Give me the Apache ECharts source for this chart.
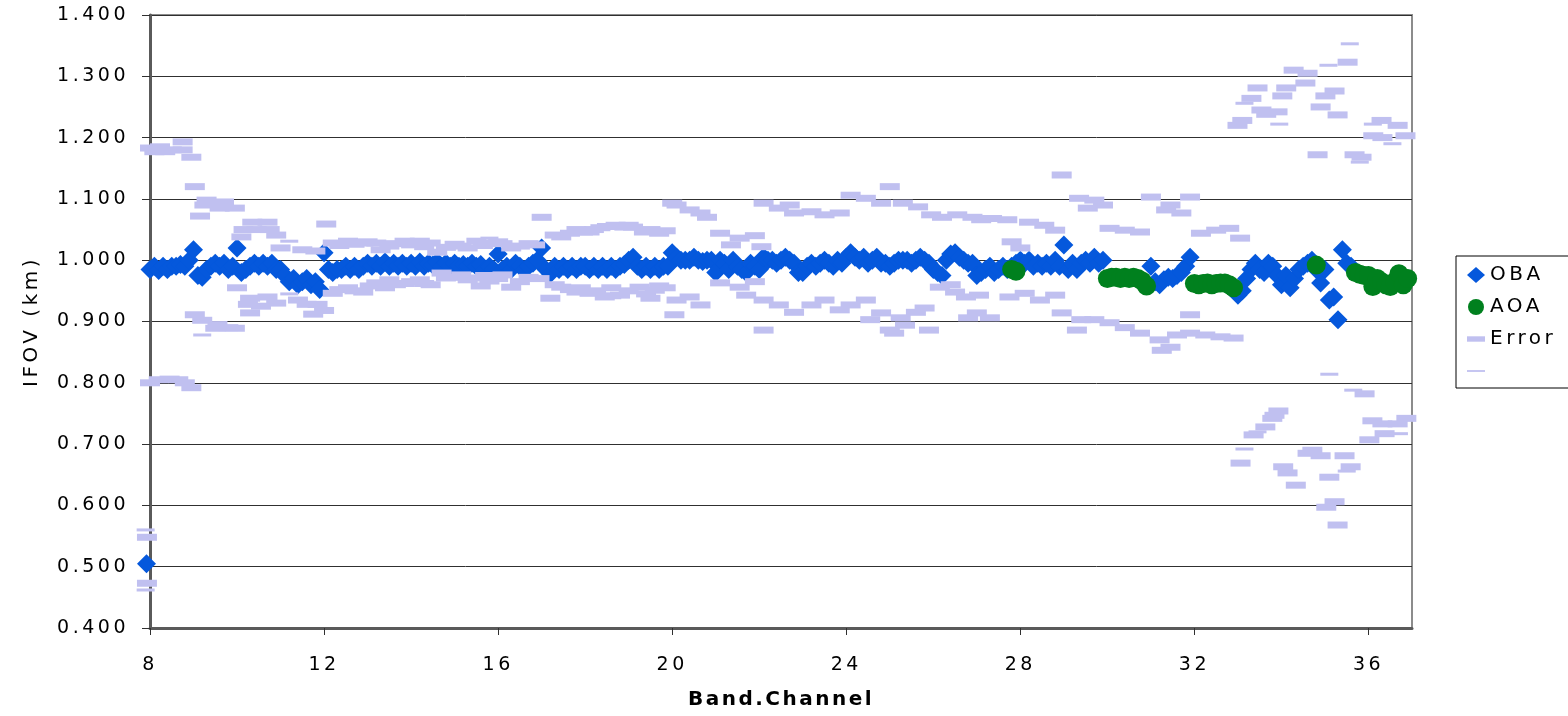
<!DOCTYPE html>
<html><head><meta charset="utf-8">
<script src="https://cdn.jsdelivr.net/npm/echarts@6/dist/echarts.min.js"></script>
<style>html,body{margin:0;padding:0;background:#fff}#c{width:1568px;height:716px}</style>
</head><body><div id="c"></div>
<script>
// ---- axis settings ----
const xMin = 8, xMax = 37, xStep = 4;
const yMin = 0.4, yMax = 1.4, yStep = 0.1;

// ---- OBA: one row per band (8..35), ten channels each, x = band + channel/10 ----
const bandStart = 8;
const obaValues = [
  [0.985,0.99,0.983,0.99,0.985,0.99,0.99,0.993,0.99,1.0],      // 8
  [1.017,0.975,0.972,0.985,0.99,0.995,0.99,0.995,0.985,0.99],  // 9
  [1.02,0.98,0.985,0.99,0.995,0.99,0.995,0.99,0.995,0.985],    // 10
  [0.985,0.975,0.965,0.97,0.96,0.965,0.97,0.96,0.965,0.952],   // 11
  [1.012,0.985,0.98,0.985,0.985,0.99,0.985,0.99,0.985,0.99],   // 12
  [0.995,0.99,0.995,0.99,0.997,0.99,0.995,0.99,0.995,0.99],    // 13
  [0.995,0.99,0.997,0.99,0.995,0.992,0.997,0.99,0.995,0.99],   // 14
  [0.995,0.99,0.993,0.99,0.995,0.99,0.993,0.985,0.99,0.985],   // 15
  [1.01,0.985,0.99,0.985,0.995,0.99,0.985,0.99,0.995,1.0],     // 16
  [1.02,0.985,0.978,0.99,0.985,0.99,0.985,0.99,0.985,0.99],    // 17
  [0.99,0.985,0.99,0.985,0.99,0.985,0.99,0.985,0.99,0.993],    // 18
  [1.0,1.005,0.99,0.985,0.99,0.985,0.99,0.985,0.99,0.99],      // 19
  [1.012,1.005,1.0,1.0,1.0,1.005,1.0,0.998,1.0,1.0],           // 20
  [0.98,1.0,0.995,0.985,1.0,0.99,0.985,0.98,0.995,0.99],       // 21
  [0.985,1.005,1.0,1.0,0.995,1.0,1.005,1.0,0.995,0.98],        // 22
  [0.98,0.99,0.995,0.99,0.995,1.0,0.995,0.99,1.0,0.995],       // 23
  [1.005,1.012,1.005,1.0,1.005,0.995,1.0,1.005,0.995,0.995],   // 24
  [0.99,0.995,1.0,1.0,1.0,0.995,1.0,1.005,1.0,0.995],          // 25
  [0.985,0.98,0.975,1.0,1.01,1.012,1.005,1.0,0.995,0.995],     // 26
  [0.975,0.98,0.985,0.99,0.98,0.985,0.99,0.985,0.99,0.995],    // 27
  [1.0,0.995,1.0,0.99,0.995,0.99,0.995,0.99,1.0,0.99],         // 28
  [1.025,0.985,0.995,0.985,0.995,1.0,0.995,1.005,0.995,1.0],   // 29
  [null,null,null,null,null,null,null,null,null,null],         // 30
  [0.99,0.965,0.96,0.968,0.972,0.97,0.975,0.98,0.99,1.005],    // 31
  [null,null,null,null,null,null,null,null,null,null],         // 32
  [0.943,0.95,0.97,0.985,0.995,0.985,0.98,0.995,0.99,0.975],   // 33
  [0.96,0.975,0.955,0.97,0.985,0.99,0.995,1.0,0.985,0.963],    // 34
  [0.985,0.935,0.94,0.903,1.017,0.995,0.99,null,null,null]     // 35
];
const obaExtraX = [7.92];
const obaExtraY = [0.505];

// ---- AOA ----
const aoaX = [27.8,27.9,30.0,30.1,30.2,30.3,30.4,30.5,30.6,30.7,30.8,30.9,
  32.0,32.1,32.2,32.3,32.4,32.5,32.6,32.7,32.8,32.9,34.8,
  35.7,35.8,35.9,36.0,36.1,36.2,36.3,36.4,36.5,36.6,36.7,36.8,36.9];
const aoaY = [0.985,0.982,0.97,0.972,0.972,0.97,0.972,0.97,0.972,0.97,0.966,0.958,
  0.962,0.96,0.962,0.963,0.96,0.962,0.963,0.963,0.96,0.955,0.992,
  0.98,0.977,0.975,0.975,0.957,0.97,0.965,0.96,0.957,0.965,0.978,0.96,0.97];

// ---- Error marks (upper / lower), [band.channel, IFOV] ----
const errUpper = [
  [7.93,0.548],
  [8.0,1.183],[8.1,1.177],[8.23,1.185],[8.35,1.177],[8.5,1.18],[8.75,1.193],[8.75,1.18],[8.95,1.168],
  [9.03,1.12],[9.3,1.098],[9.7,1.095],[9.25,1.09],[9.6,1.085],[9.95,1.085],[9.15,1.072],
  [10.35,1.062],[10.7,1.062],[10.15,1.05],[10.45,1.05],[10.75,1.05],[10.9,1.041],[10.1,1.038],
  [11.0,1.02],[11.5,1.017],[11.8,1.015],[12.05,1.059],
  [12.2,1.028],[12.55,1.031],[12.9,1.028],[12.35,1.024],[12.7,1.026],
  [13.0,1.03],[13.2,1.028],[13.5,1.023],[13.65,1.027],[13.85,1.031],[13.3,1.017],
  [14.0,1.025],[14.2,1.031],[14.3,1.022],[14.45,1.028],[14.8,1.021],[14.6,1.013],
  [15.0,1.026],[15.15,1.023],[15.3,1.02],[15.5,1.031],[15.65,1.024],[15.8,1.028],
  [16.0,1.03],[16.1,1.027],[16.3,1.02],[16.5,1.023],[16.7,1.027],[16.85,1.025],[17.0,1.07],
  [17.3,1.041],[17.45,1.038],[17.65,1.044],[17.8,1.05],[17.95,1.046],
  [18.1,1.046],[18.2,1.05],[18.35,1.053],[18.5,1.055],[18.7,1.057],[18.9,1.054],
  [19.0,1.057],[19.1,1.054],[19.35,1.046],[19.5,1.05],[19.7,1.044],[19.85,1.048],
  [20.0,1.093],[20.1,1.09],[20.4,1.082],[20.65,1.077],[20.8,1.07],
  [21.1,1.044],[21.55,1.036],[21.9,1.04],[21.35,1.025],[22.05,1.022],
  [22.1,1.093],[22.45,1.085],[22.8,1.077],[22.7,1.09],
  [23.2,1.079],[23.5,1.074],[23.85,1.077],
  [24.1,1.106],[24.45,1.101],[24.8,1.093],[25.0,1.12],
  [25.3,1.093],[25.65,1.087],[25.95,1.074],
  [26.2,1.07],[26.55,1.074],[26.9,1.07],[27.1,1.066],
  [27.35,1.068],[27.7,1.066],[27.8,1.03],
  [28.0,1.02],[28.2,1.062],[28.55,1.057],[28.8,1.049],
  [28.95,1.139],[29.35,1.101],[29.7,1.098],[29.9,1.09],[29.55,1.085],
  [30.05,1.052],[30.4,1.049],[30.75,1.046],
  [31.0,1.103],[31.35,1.082],[31.7,1.077],[31.9,1.103],[31.45,1.09],
  [32.15,1.044],[32.5,1.049],[32.8,1.052],[33.05,1.036],
  [32.99,1.22],[33.1,1.228],[33.31,1.264],[33.45,1.281],[33.54,1.245],[33.65,1.238],
  [33.91,1.242],[34.02,1.268],[34.11,1.281],[34.28,1.31],[34.55,1.289],[34.6,1.305],
  [34.9,1.25],[35.01,1.268],[35.22,1.276],[35.29,1.237],[35.52,1.323],
  [34.83,1.172],[35.68,1.172],[35.84,1.168],[36.11,1.203],[36.32,1.2],[36.3,1.228],
  [36.67,1.22],[36.85,1.203]
];
const errLower = [
  [7.93,0.473],
  [8.0,0.80],[8.2,0.805],[8.45,0.806],[8.65,0.805],[8.8,0.80],[8.95,0.792],
  [9.03,0.911],[9.2,0.902],[9.55,0.895],[9.8,0.89],[9.5,0.889],[9.95,0.889],
  [10.0,0.955],[10.3,0.938],[10.7,0.94],[10.25,0.928],[10.55,0.925],[10.9,0.93],[10.3,0.914],
  [11.4,0.935],[11.6,0.928],[11.85,0.928],[12.0,0.918],[11.75,0.912],
  [12.2,0.946],[12.35,0.952],[12.55,0.955],[12.7,0.95],[12.9,0.948],
  [13.05,0.958],[13.2,0.963],[13.5,0.968],[13.65,0.96],[13.85,0.962],[13.4,0.955],
  [14.0,0.965],[14.2,0.968],[14.3,0.962],[14.45,0.96],[14.8,0.971],[14.7,0.979],
  [15.0,0.972],[15.15,0.976],[15.3,0.968],[15.5,0.971],[15.7,0.975],[15.8,0.966],[15.6,0.958],
  [16.0,0.97],[16.1,0.976],[16.5,0.965],[16.3,0.956],[16.7,0.972],[16.95,0.97],[17.2,0.938],
  [17.3,0.96],[17.45,0.956],[17.65,0.952],[17.8,0.948],[17.9,0.955],
  [18.1,0.946],[18.25,0.95],[18.45,0.94],[18.6,0.942],[18.8,0.943],[18.6,0.955],
  [19.0,0.95],[19.25,0.956],[19.4,0.945],[19.6,0.951],[19.7,0.958],[19.85,0.955],[19.5,0.938],
  [20.1,0.935],[20.4,0.94],[20.65,0.927],[20.05,0.911],
  [21.1,0.963],[21.55,0.956],[21.9,0.965],[21.7,0.943],
  [22.1,0.935],[22.45,0.927],[22.8,0.915],[22.1,0.886],
  [23.2,0.927],[23.5,0.935],[23.85,0.919],
  [24.1,0.927],[24.45,0.935],[24.8,0.914],[24.55,0.903],[25.0,0.886],
  [25.25,0.906],[25.6,0.915],[25.8,0.922],[25.1,0.881],[25.35,0.894],
  [26.15,0.956],[26.5,0.948],[26.75,0.94],[26.4,0.96],[25.9,0.886],
  [27.0,0.914],[27.3,0.906],[27.05,0.943],[27.75,0.94],[26.8,0.906],
  [28.1,0.946],[28.45,0.935],[28.8,0.943],[28.95,0.914],
  [29.4,0.903],[29.7,0.903],[29.3,0.886],
  [30.05,0.898],[30.4,0.89],[30.75,0.881],[31.2,0.87],[31.45,0.858],
  [31.25,0.853],[31.6,0.878],[31.9,0.881],[31.9,0.911],
  [32.25,0.878],[32.6,0.875],[32.9,0.873],
  [33.06,0.669],[33.36,0.715],[33.63,0.728],[33.79,0.742],[33.84,0.747],[33.93,0.754],
  [34.04,0.663],[34.14,0.653],[34.33,0.633],[34.6,0.685],[34.71,0.69],[34.9,0.681],
  [35.1,0.646],[35.03,0.597],[35.22,0.606],[35.29,0.568],[35.45,0.681],[35.59,0.663],
  [35.91,0.782],[36.09,0.738],[36.32,0.733],[36.67,0.733],[36.87,0.742],[36.37,0.717],[36.02,0.707]
];
// thin marks (unnamed series)
const thinMarks = [
  [7.9,0.56],[7.9,0.462],[9.2,0.878],[11.2,1.031],[11.2,0.945],[15.8,1.036],
  [33.15,1.256],[33.95,1.222],[35.08,1.318],[35.57,1.353],[35.8,1.16],[36.55,1.19],[36.1,1.222],
  [33.15,0.692],[33.45,0.72],[35.1,0.814],[35.5,0.656],[35.65,0.788],[36.7,0.717]
];

// ---- build series data ----
const obaData = obaExtraX.map((x, i) => [x, obaExtraY[i]]);
obaValues.forEach((row, bi) => {
  row.forEach((v, k) => {
    if (v !== null) obaData.push([+(bandStart + bi + k / 10).toFixed(1), v]);
  });
});
const aoaData = aoaX.map((x, i) => [x, aoaY[i]]);
const errData = errUpper.concat(errLower);

// the reference text is drawn with slightly wide character spacing
(function () {
  const proto = CanvasRenderingContext2D.prototype;
  const orig = proto.fillText;
  proto.fillText = function (text, x, y, maxW) {
    if ('letterSpacing' in this) this.letterSpacing = /bold/.test(this.font) ? '2.5px' : '3.5px';
    return maxW === undefined ? orig.call(this, text, x, y) : orig.call(this, text, x, y, maxW);
  };
})();

const FONT = 'DejaVu Sans';
const chart = echarts.init(document.getElementById('c'), null, {renderer: 'canvas'});
chart.setOption({
  animation: false,
  backgroundColor: '#ffffff',
  grid: {left: 150, right: 156, top: 15, bottom: 88, show: true, borderColor: '#8c8c8c', borderWidth: 2, backgroundColor: '#ffffff'},
  xAxis: {
    type: 'value', min: xMin, max: xMax, interval: xStep,
    name: 'Band.Channel', nameLocation: 'middle', nameGap: 62,
    nameTextStyle: {fontFamily: FONT, fontSize: 20, color: '#000', fontWeight: 'bold'},
    axisLine: {show: true, lineStyle: {color: '#5a5a5a', width: 3}},
    axisTick: {show: true, inside: false, length: 7, lineStyle: {color: '#303030', width: 1}},
    axisLabel: {show: true, margin: 28, fontFamily: FONT, fontSize: 19, color: '#000', showMaxLabel: false},
    splitLine: {show: false}
  },
  yAxis: {
    type: 'value', min: yMin, max: yMax, interval: yStep,
    name: 'IFOV (km)', nameLocation: 'middle', nameGap: 108, nameRotate: 90,
    nameTextStyle: {fontFamily: FONT, fontSize: 20, color: '#000'},
    axisLine: {show: true, lineStyle: {color: '#5a5a5a', width: 3}},
    axisTick: {show: true, inside: false, length: 8, lineStyle: {color: '#303030', width: 1}},
    axisLabel: {show: true, margin: 21, fontFamily: FONT, fontSize: 19, color: '#000',
      formatter: v => v.toFixed(3)},
    splitLine: {show: true, lineStyle: {color: '#303030', width: 1}}
  },
  legend: {
    orient: 'vertical', left: 1456, top: 256,
    padding: [8, 60, 6, 11], itemGap: 10, itemWidth: 18, itemHeight: 16,
    borderColor: '#000', borderWidth: 1, backgroundColor: '#fff',
    textStyle: {fontFamily: FONT, fontSize: 20, color: '#000', lineHeight: 22},
    data: [
      {name: 'OBA', icon: 'diamond'},
      {name: 'AOA', icon: 'circle'},
      {name: 'Error', icon: 'path://M0,0L20,0L20,6L0,6Z'},
      {name: ' ', icon: 'path://M0,0L20,0L20,2L0,2Z'}
    ]
  },
  series: [
    {name: 'OBA', type: 'scatter', symbol: 'diamond', symbolSize: 19, clip: false, z: 2,
      itemStyle: {color: '#0558dc', opacity: 1}, data: obaData},
    {name: 'AOA', type: 'scatter', symbol: 'circle', symbolSize: 19, clip: false, z: 3,
      itemStyle: {color: '#00801e', opacity: 1}, data: aoaData},
    {name: 'Error', type: 'scatter', symbol: 'rect', symbolSize: [20, 7], clip: false, z: 4,
      itemStyle: {color: '#c0c0f0', opacity: 1}, data: errData},
    {name: ' ', type: 'scatter', symbol: 'rect', symbolSize: [18, 3], clip: false, z: 5,
      itemStyle: {color: '#c0c0f0', opacity: 1}, data: thinMarks}
  ]
});
</script>
</body></html>
